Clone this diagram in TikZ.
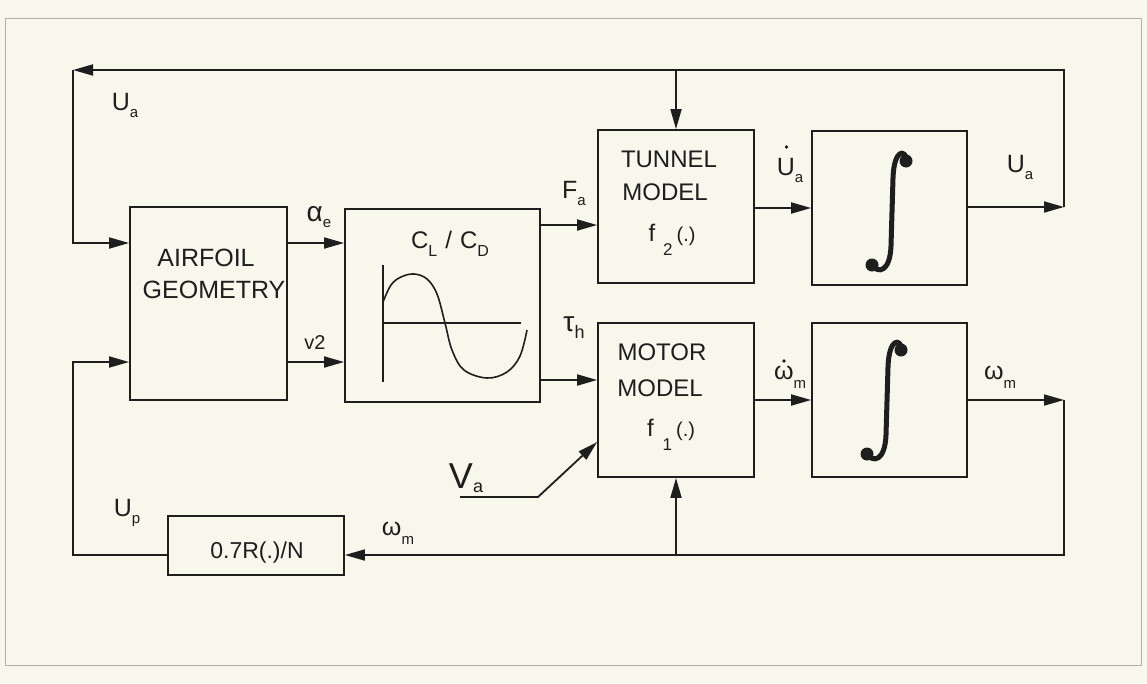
\documentclass[tikz,border=0pt]{standalone}
\usepackage{fontspec}
\setmainfont{Liberation Sans}
\usepackage{graphicx}
\usetikzlibrary{arrows.meta}
\definecolor{bg}{HTML}{F8F7EC}
\definecolor{ink}{HTML}{1E1E1E}
\definecolor{framec}{HTML}{B0B0A8}
\newcommand{\fs}[1]{\fontsize{#1}{#1}\selectfont}
\newcommand{\lsub}[2]{#1\raisebox{-7pt}{\fs{15}#2}}
\begin{document}
\begin{tikzpicture}[x=1pt,y=-1pt,line width=1.8pt,ink,
  box/.style={draw=ink,line width=1.8pt,inner sep=0pt},
  txt/.style={inner sep=0pt,align=center,font=\fs{24}},
  lbl/.style={inner sep=0pt,font=\fs{25}},
  arr/.style={-{Triangle[length=20pt,width=11pt]}},
  integral/.style={line width=5pt,line cap=round}]
\fill[bg] (0,0) rectangle (1147,683);
\useasboundingbox (0,0) rectangle (1147,683);
\draw[framec,line width=1pt] (5,18) rectangle (1141,665);

% blocks
\node[box,minimum width=157pt,minimum height=193pt] (air) at (208.5,303.5) {};
\node[box,minimum width=195pt,minimum height=193pt] (clcd) at (442.5,305.5) {};
\node[box,minimum width=156pt,minimum height=153pt] (tun) at (676,206.5) {};
\node[box,minimum width=155pt,minimum height=154pt] (int1) at (889.5,208) {};
\node[box,minimum width=156pt,minimum height=154pt] (mot) at (676,400) {};
\node[box,minimum width=155pt,minimum height=154pt] (int2) at (889.5,400) {};
\node[box,minimum width=176pt,minimum height=59pt] (gain) at (256,545.5) {};

% block texts
\node[txt,font=\fs{25}] (airT1) at (206,258) {AIRFOIL};
\node[txt,font=\fs{25}] (airT2) at (214,290) {GEOMETRY};
\node[txt] (clT) at (450,244) {C\raisebox{-8pt}{\fs{16}L}\hspace{8pt}/\hspace{8pt}C\raisebox{-8pt}{\fs{16}D}};
\node[txt] (tunT1) at (669,159) {TUNNEL};
\node[txt] (tunT2) at (665,192) {MODEL};
\node[txt] (tunT3) at (672,240) {f\hspace{8pt}\raisebox{-14pt}{\fs{17}2}\hspace{4pt}{\fs{20}(.)}};
\node[txt] (motT1) at (662,352) {MOTOR};
\node[txt] (motT2) at (660,388) {MODEL};
\node[txt] (motT3) at (671,435) {f\hspace{9pt}\raisebox{-14pt}{\fs{17}1}\hspace{4pt}{\fs{20}(.)}};
\node[txt,font=\fs{23}] (gainT) at (257,553) {0.7R(.)/N};

% integral signs
\foreach \dx/\dy in {0/0,-5/189}{
  \begin{scope}[shift={(\dx,\dy)}]
    \draw[integral] (907,160) .. controls (905,149) and (894,149) .. (893,178)
       -- (891,246) .. controls (890,272) and (878,274) .. (872,265);
    \fill (906,161) circle (6.5pt);
    \fill (872,265) circle (6.5pt);
  \end{scope}
}

% sine curve
\draw[line width=1.6pt] (383,265) -- (383,382);
\draw[line width=1.6pt] (383,323) -- (521,323);
\draw[line width=1.6pt] plot[smooth,tension=0.6] coordinates {(383,302) (391,285) (401,277) (414,274) (427,279) (437,294) (445,323) (452,350) (464,370) (487,378) (507,372) (520,356) (527,330)};

% coordinates
\coordinate (tL) at (73,70);
\coordinate (tR) at (1064,207);
\coordinate (wR) at (1064,400);
\coordinate (bR) at (1064,555);
\coordinate (bL) at (73,555);
\coordinate (va0) at (460,497);
\coordinate (va1) at (538,497);

% connectors
\draw[arr] (int1.east |- tR) -- (tR);
\draw[arr] (tR) |- (tL);
\draw[arr] (tL) |- (air.west |- 0,243);
\draw[arr] (tun.north |- tL) -- (tun.north);
\draw[arr] (air.east |- 0,243) -- (clcd.west |- 0,243);
\draw[arr] (air.east |- 0,362) -- (clcd.west |- 0,362);
\draw[arr] (clcd.east |- 0,225) -- (tun.west |- 0,225);
\draw[arr] (clcd.east |- 0,380) -- (mot.west |- 0,380);
\draw[arr] (tun.east |- int1.west) -- (int1.west);
\draw[arr] (mot.east |- int2.west) -- (int2.west);
\draw[arr] (int2.east) -- (wR);
\draw[arr] (wR) |- (gain.east |- bR);
\draw[arr] (mot.south |- bR) -- (mot.south);
\draw[arr] (gain.west |- bL) -- (bL) |- (air.west |- 0,362);
\draw[arr] (va0) -- (va1) -- (mot.west |- 0,442);

% labels
\node[lbl] (lUa1) at (125,105) {\lsub{U}{a}};
\node[lbl,font=\fs{28}] (lal) at (319,217) {α\raisebox{-6pt}{\fs{15}e}};
\node[lbl,font=\fs{20}] (lv2) at (315,343) {v2};
\node[lbl] (lFa) at (574,193) {\lsub{F}{a}};
\node[lbl,font=\fs{28}] (ltau) at (574,328) {τ\raisebox{-7pt}{\fs{18}h}};
\node[lbl] (lUd) at (790,170) {\lsub{U}{a}};
\fill (786.5,147) circle (1.8pt);
\node[lbl] (lUa2) at (1020,167) {\lsub{U}{a}};
\node[lbl] (lwd) at (790,377) {ω\raisebox{-9pt}{\fs{15}m}};
\fill (784,361) circle (1.8pt);
\node[lbl] (lwm) at (1000,377) {ω\raisebox{-9pt}{\fs{15}m}};
\node[lbl] (lUp) at (127,513) {\lsub{U}{p}};
\node[lbl] (lwm2) at (398,533) {ω\raisebox{-9pt}{\fs{15}m}};
\node[lbl,font=\fs{36}] (lVa) at (466,478) {V\raisebox{-4pt}{\fs{18}a}};
\end{tikzpicture}
\end{document}
